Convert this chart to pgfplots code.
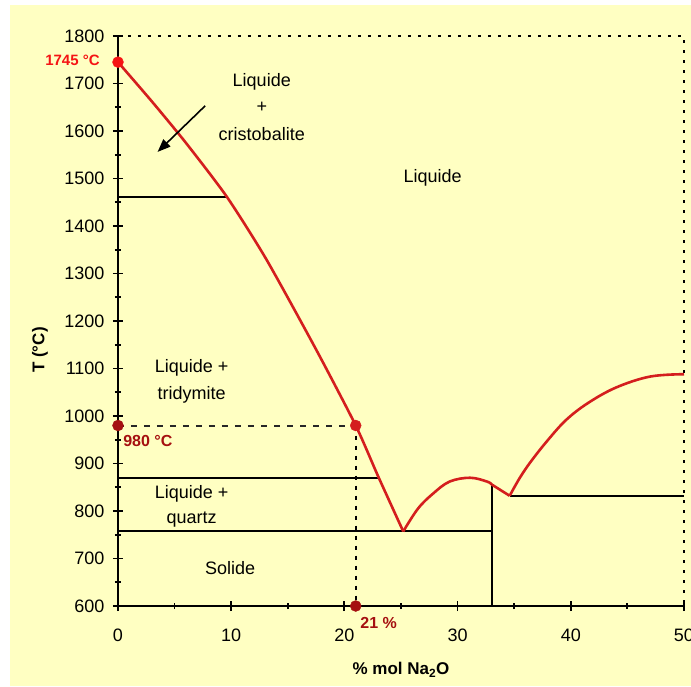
\documentclass[border=0pt]{standalone}
\usepackage{fontspec}
\setmainfont{Liberation Sans}
\usepackage{pgfplots}
\pgfplotsset{compat=1.18}
\usetikzlibrary{arrows.meta}
\definecolor{bgy}{RGB}{255,255,194}
\definecolor{curvered}{RGB}{212,30,30}
\definecolor{dred}{RGB}{165,16,16}
\definecolor{bred}{RGB}{245,20,20}
\begin{document}
\begin{tikzpicture}
\fill[white] (-118pt,-80pt) rectangle (573pt,606pt);
\fill[bgy] (-108pt,-80pt) rectangle (573pt,601pt);
\begin{axis}[
  at={(0,0)}, anchor=south west,
  scale only axis, width=566pt, height=570pt,
  xmin=0, xmax=50, ymin=600, ymax=1800,
  clip=false,
  axis lines=left,
  axis line style={-, line width=2pt, black},
  xtick={0,10,...,50}, ytick={600,700,...,1800},
  minor x tick num=1, minor y tick num=1,
  tick align=center, major tick length=10pt, minor tick length=6pt,
  every tick/.style={black, line width=1.8pt},
  tick label style={font=\fontsize{18}{21}\selectfont},
  /pgf/number format/assume math mode=true,
  /pgf/number format/set thousands separator={},
  xticklabel style={yshift=-14pt},
  yticklabel style={xshift=-5pt},
  xlabel={\% mol Na\textsubscript{2}O},
  ylabel={T (°C)},
  xlabel style={font=\bfseries\fontsize{17}{20}\selectfont, at={(axis description cs:0.5,-0.112)}, anchor=center},
  ylabel style={font=\bfseries\fontsize{17}{20}\selectfont, at={(axis description cs:-0.138,0.449)}, anchor=center},
]
% dotted frame top/right
\addplot[black, line width=2pt, dash pattern=on 3pt off 7pt] coordinates {(0,1800) (50,1800) (50,600)};
% horizontal / vertical phase lines
\addplot[black, line width=2pt] coordinates {(0,1460) (9.6,1460)};
\addplot[black, line width=2pt] coordinates {(0,870) (23,870)};
\addplot[black, line width=2pt] coordinates {(0,757) (33,757)};
\addplot[black, line width=2pt] coordinates {(33,600) (33,856)};
\addplot[black, line width=2pt] coordinates {(34.6,832) (50,832)};
% dashed guide lines
\addplot[black!85, line width=2pt, dash pattern=on 6pt off 7pt] coordinates {(0,980) (21,980)};
\addplot[black, line width=2pt, dash pattern=on 4pt off 6pt] coordinates {(21,980) (21,600)};
% liquidus curves
\addplot[curvered, line width=2.6pt, smooth, tension=0.4] coordinates {(0,1745) (3,1662) (6,1575) (9.6,1462) (13.1,1330) (17.5,1140) (21,980) (23,872) (25.2,757)};
\addplot[curvered, line width=2.6pt, smooth, tension=0.6] coordinates {(25.2,757) (26.5,805) (27.85,837) (29.3,862) (31.1,870) (32.6,862) (33,856)};
\addplot[curvered, line width=2.6pt] coordinates {(33,856) (34.6,832)};
\addplot[curvered, line width=2.6pt, smooth, tension=0.6] coordinates {(34.6,832) (35.5,870) (36.5,905) (38,950) (39.6,992) (41.5,1027) (44,1060) (47,1083) (50,1088)};
% points
\addplot[only marks, mark=*, mark size=5.5pt, bred, mark options={draw=bred, fill=bred}] coordinates {(0,1745)};
\addplot[only marks, mark=*, mark size=5.5pt, dred, mark options={draw=dred, fill=dred}] coordinates {(0,980) (21,600)};
\addplot[only marks, mark=*, mark size=5.5pt, curvered, mark options={draw=curvered, fill=curvered}] coordinates {(21,980)};
% arrow
\draw[line width=1.6pt, -{Triangle[length=13pt,width=10pt]}] (axis cs:7.7,1653) -- (axis cs:3.5,1556);
% labels
\node[font=\fontsize{18}{21}\selectfont] at (axis cs:12.7,1704) {Liquide};
\node[font=\fontsize{18}{21}\selectfont] at (axis cs:12.7,1649) {+};
\node[font=\fontsize{18}{21}\selectfont] at (axis cs:12.7,1594) {cristobalite};
\node[font=\fontsize{18}{21}\selectfont] at (axis cs:27.8,1501) {Liquide};
\node[font=\fontsize{18}{21}\selectfont] at (axis cs:6.5,1101) {Liquide +};
\node[font=\fontsize{18}{21}\selectfont] at (axis cs:6.5,1044) {tridymite};
\node[font=\fontsize{18}{21}\selectfont] at (axis cs:6.5,837) {Liquide +};
\node[font=\fontsize{18}{21}\selectfont] at (axis cs:6.5,781) {quartz};
\node[font=\fontsize{18}{21}\selectfont] at (axis cs:9.9,679) {Solide};
\node[font=\bfseries\fontsize{15}{18}\selectfont, text=bred, anchor=east, inner sep=0pt] at (axis cs:-1.6,1748) {1745 °C};
\node[font=\bfseries\fontsize{16}{19}\selectfont, text=dred, anchor=west, inner sep=0pt] at (axis cs:0.45,948) {980 °C};
\node[font=\bfseries\fontsize{16}{19}\selectfont, text=dred, anchor=west, inner sep=0pt] at (axis cs:21.4,565) {21 \%};
\end{axis}
\pgfresetboundingbox
\useasboundingbox (-118pt,-80pt) rectangle (573pt,606pt);
\end{tikzpicture}
\end{document}
